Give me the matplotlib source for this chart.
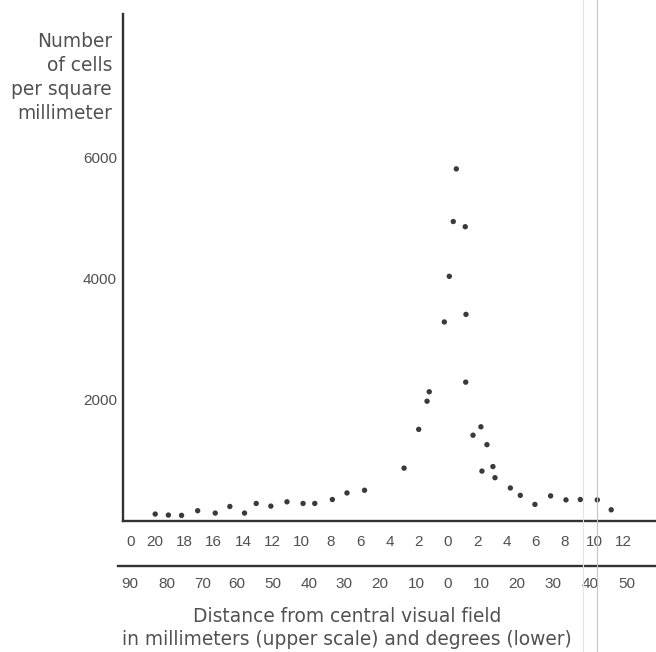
import matplotlib
matplotlib.use("Agg")
import matplotlib.pyplot as plt
from matplotlib.lines import Line2D

# cell density vs. distance (mm, left side negative)
dist_mm = [-20.0, -19.1, -18.2, -17.1, -15.9, -14.9, -13.9, -13.1, -12.1, -11.0,
           -9.9, -9.1, -7.9, -6.9, -5.7, -3.0, -2.0, -1.43, -1.28, -0.25,
           0.09, 0.36, 0.57, 1.18, 1.23, 1.21, 1.71, 2.25, 2.32, 2.66,
           3.07, 3.21, 4.26, 4.94, 5.94, 7.01, 8.06, 9.04, 10.2, 11.15]
cells = [115, 98, 93, 170, 131, 240, 131, 290, 246, 317,
         290, 290, 355, 464, 508, 874, 1515, 1980, 2136, 3290,
         4044, 4950, 5820, 4864, 3415, 2295, 1418, 1557, 825, 1262,
         900, 716, 546, 424, 274, 415, 349, 355, 349, 185]

y_ticks = [2000, 4000, 6000]
mm_ticks = [-21.7, -20, -18, -16, -14, -12, -10, -8, -6, -4, -2, 0, 2, 4, 6, 8, 10, 12]
mm_labels = ["0", "20", "18", "16", "14", "12", "10", "8", "6", "4", "2",
             "0", "2", "4", "6", "8", "10", "12"]
deg_ticks = [-21.77, -19.21, -16.78, -14.43, -11.97, -9.49, -7.08, -4.67, -2.14,
             -0.02, 2.30, 4.69, 7.19, 9.70, 12.21]
deg_labels = ["90", "80", "70", "60", "50", "40", "30", "20", "10",
              "0", "10", "20", "30", "40", "50"]

W, H = 656, 652
ink = "#333333"
txt = "#505050"
tickfont = dict(family="Liberation Sans", size=11, color=txt)

fig = plt.figure(figsize=(W / 100, H / 100), dpi=100)

# scan artefacts (faint vertical lines)
for xp, c in [(583, "#e4e4e4"), (597, "#c4c4c4")]:
    fig.add_artist(Line2D([xp / W, xp / W], [0, 1], color=c, lw=0.8))

ax = fig.add_axes([123 / W, 131 / H, (W - 123) / W, 507 / H])
ax.scatter(dist_mm, cells, s=15, color="#3a3a3a", edgecolors="none", zorder=3)
ax.set_xlim(-22.2, 14.21)
ax.set_ylim(0, 8380)
for s in ["top", "right"]:
    ax.spines[s].set_visible(False)
for s in ["left", "bottom"]:
    ax.spines[s].set_color(ink)
    ax.spines[s].set_linewidth(1.7)
ax.set_yticks(y_ticks)
ax.set_yticklabels([str(v) for v in y_ticks], fontdict=tickfont)
ax.set_xticks(mm_ticks)
ax.set_xticklabels(mm_labels, fontdict=tickfont)
ax.tick_params(axis="both", length=0)
ax.tick_params(axis="y", pad=4.5)
ax.tick_params(axis="x", pad=10)

# lower (degrees) scale
axd = fig.add_axes([118 / W, (H - 566) / H, (W - 118) / W, 0.0001])
axd.set_xlim(-22.54, 14.21)
axd.set_ylim(0, 1)
for s in ["bottom", "left", "right"]:
    axd.spines[s].set_visible(False)
axd.spines["top"].set_color(ink)
axd.spines["top"].set_linewidth(1.7)
axd.set_yticks([])
axd.set_xticks(deg_ticks)
axd.set_xticklabels(deg_labels, fontdict=tickfont)
axd.tick_params(axis="x", length=0, pad=8)
axd.patch.set_visible(False)

# y-axis caption
lab = dict(family="DejaVu Sans", size=13.4, color=txt, ha="right", va="baseline")
for line, yb in zip(["Number", "of cells", "per square", "millimeter"], [47, 71, 95, 119]):
    fig.text(112 / W, 1 - yb / H, line, **lab)

# x-axis caption
cap = dict(family="DejaVu Sans", size=13.4, color=txt, ha="center", va="baseline")
fig.text(347 / W, 1 - 622 / H, "Distance from central visual field", **cap)
fig.text(347 / W, 1 - 645 / H, "in millimeters (upper scale) and degrees (lower)", **cap)

fig.savefig("out.png", dpi=100)
